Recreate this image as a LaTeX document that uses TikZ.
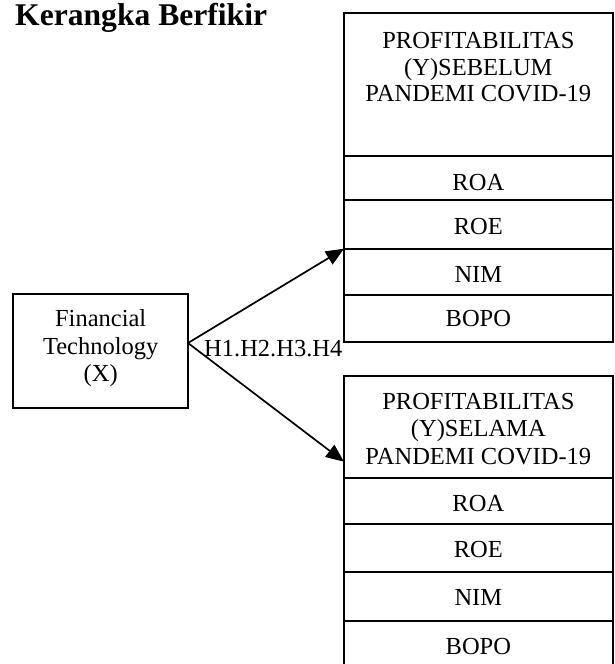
\documentclass[tikz,border=0pt]{standalone}
\usepackage{fontspec}
\setmainfont{Liberation Serif}
\usetikzlibrary{arrows.meta}
\begin{document}
\begin{tikzpicture}[x=1pt,y=-1pt,
  cell/.style={draw, line width=1.9pt, minimum width=268.7pt, anchor=north west, inner sep=0pt, outer sep=0pt},
  lbl/.style={font=\fontsize{24.5}{26.7}\selectfont, anchor=base, inner sep=0pt},
  arr/.style={-{Triangle[length=18pt,width=15pt]}, line width=1.7pt}]
\useasboundingbox (0,0) rectangle (614,664);
\clip (0,0) rectangle (614,664);
% title
\node[font=\fontsize{31.6}{36}\selectfont\bfseries, anchor=base west, inner sep=0pt] (title) at (15,25) {Kerangka Berfikir};
% top box
\node[cell, minimum height=142.4pt] (th) at (344,13.3) {};
\node[cell, minimum height=44.3pt] (t1) at (344,155.7) {};
\node[cell, minimum height=48.7pt] (t2) at (344,200) {};
\node[cell, minimum height=46.3pt] (t3) at (344,248.7) {};
\node[cell, minimum height=47.3pt] (t4) at (344,295) {};
\node[lbl, align=center] (thtext) at (478.35,101.7) {PROFITABILITAS\\(Y)SEBELUM\\PANDEMI COVID-19};
\node[lbl] (t1text) at (478.35,190) {ROA};
\node[lbl] (t2text) at (478.35,234) {ROE};
\node[lbl] (t3text) at (478.35,282.3) {NIM};
\node[lbl] (t4text) at (478.35,326.7) {BOPO};
% bottom box
\node[cell, minimum height=102.3pt] (bh) at (344,376) {};
\node[cell, minimum height=45.7pt] (b1) at (344,478.3) {};
\node[cell, minimum height=48pt] (b2) at (344,524) {};
\node[cell, minimum height=48.7pt] (b3) at (344,572) {};
\node[cell, minimum height=50pt] (b4) at (344,620.7) {};
\node[lbl, align=center, font=\fontsize{24.5}{27.5}\selectfont] (bhtext) at (478.35,464.3) {PROFITABILITAS\\(Y)SELAMA\\PANDEMI COVID-19};
\node[lbl] (b1text) at (478.35,511.7) {ROA};
\node[lbl] (b2text) at (478.35,557.3) {ROE};
\node[lbl] (b3text) at (478.35,605.7) {NIM};
\node[lbl] (b4text) at (478.35,654) {BOPO};
% left box
\node[draw, line width=1.9pt, minimum width=174.7pt, minimum height=113.7pt, anchor=north west, inner sep=0pt, outer sep=0pt] (fx) at (13.3,294) {};
\node[lbl, align=center, font=\fontsize{24.5}{27.5}\selectfont] (fxtext) at (100.7,381.7) {Financial\\Technology\\(X)};
% arrows
\coordinate (src) at (188,343);
\coordinate (dst2) at (344,461.7);
\draw[arr] (src) -- (t3.north west);
\draw[arr] (src) -- (dst2);
\node[lbl, anchor=base west] (hyp) at (204,356.7) {H1.H2.H3.H4};
\end{tikzpicture}
\end{document}
